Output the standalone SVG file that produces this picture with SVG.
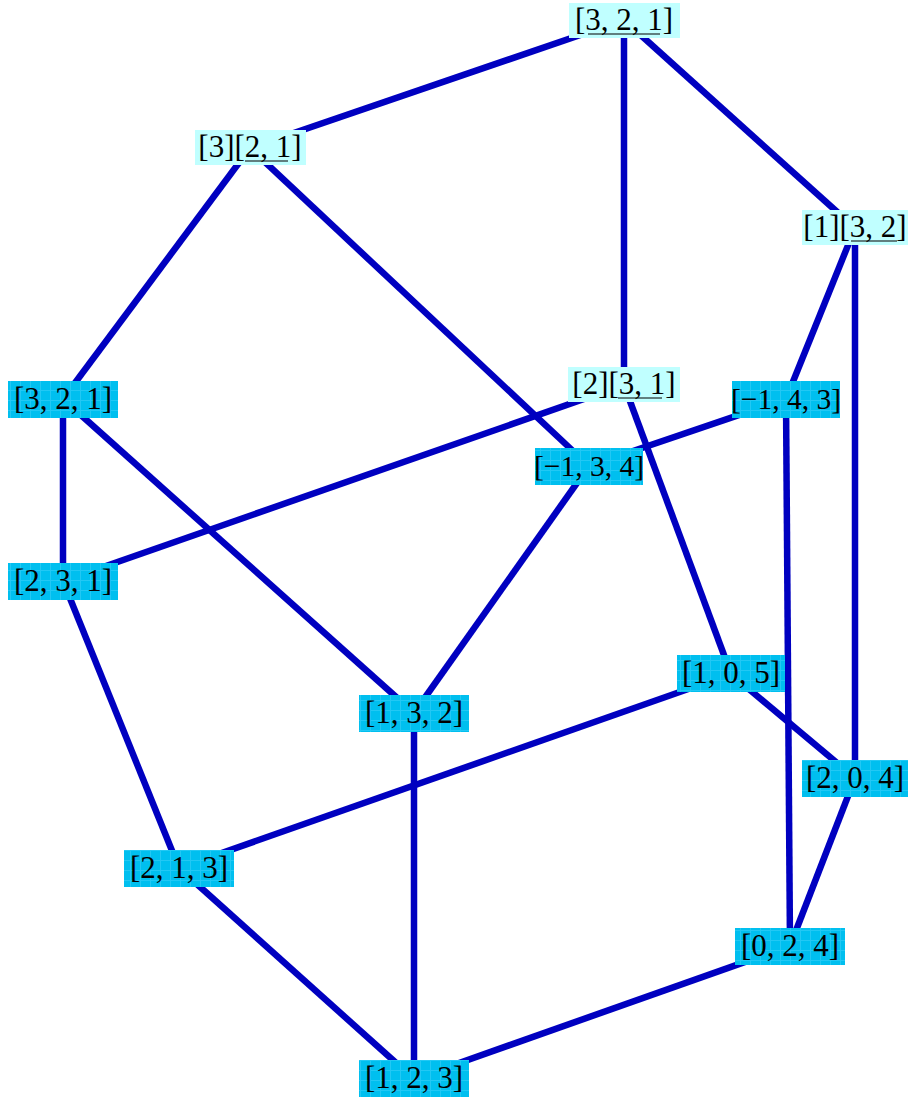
<svg xmlns="http://www.w3.org/2000/svg" width="910" height="1097" viewBox="0 0 910 1097">
<defs>
<pattern id="grid" width="10" height="10" patternUnits="userSpaceOnUse">
<rect width="10" height="10" fill="#00bfef"/>
<path d="M0 0.5H10M0.5 0V10" stroke="#22c8f4" stroke-width="1"/>
</pattern>
<style>
.e{stroke:#0000c0;stroke-width:6.5;fill:none;stroke-linecap:butt}
.lt{fill:#c0ffff}
.dk{fill:url(#grid)}
.t{font-family:"Liberation Serif","DejaVu Serif",serif;font-size:31px;fill:#000;text-anchor:middle}
.n{font-size:29.5px}
.u{stroke:#000;stroke-width:1.2}
</style>
</defs>
<rect width="910" height="1097" fill="#fff"/>
<g id="connectors">
<line class="e" x1="624" y1="20" x2="250" y2="148"/>
<line class="e" x1="624" y1="20" x2="624" y2="385"/>
<line class="e" x1="624" y1="20" x2="855" y2="228"/>
<line class="e" x1="250" y1="148" x2="63" y2="399"/>
<line class="e" x1="250" y1="148" x2="589" y2="466"/>
<line class="e" x1="855" y1="228" x2="786" y2="399"/>
<line class="e" x1="855" y1="228" x2="855" y2="778"/>
<line class="e" x1="624" y1="385" x2="63" y2="581"/>
<line class="e" x1="624" y1="385" x2="731" y2="674"/>
<line class="e" x1="63" y1="399" x2="63" y2="581"/>
<line class="e" x1="63" y1="399" x2="414" y2="713"/>
<line class="e" x1="589" y1="466" x2="786" y2="399"/>
<line class="e" x1="589" y1="466" x2="414" y2="713"/>
<line class="e" x1="63" y1="581" x2="179" y2="868"/>
<line class="e" x1="414" y1="713" x2="414" y2="1079"/>
<line class="e" x1="731" y1="674" x2="179" y2="868"/>
<line class="e" x1="731" y1="674" x2="855" y2="778"/>
<line class="e" x1="786" y1="399" x2="790" y2="946"/>
<line class="e" x1="855" y1="778" x2="790" y2="946"/>
<line class="e" x1="179" y1="868" x2="414" y2="1079"/>
<line class="e" x1="790" y1="946" x2="414" y2="1079"/>
</g>
<g id="nA"><rect class="lt" x="569" y="3" width="111" height="35"/><text class="t" x="624" y="30">[3, 2, 1]</text><line class="u" x1="588" y1="34" x2="660" y2="34"/></g>
<g id="nB"><rect class="lt" x="195" y="130" width="111" height="35"/><text class="t" x="250" y="157">[3][2, 1]</text><line class="u" x1="245" y1="161" x2="288" y2="161"/></g>
<g id="nC"><rect class="lt" x="802" y="210" width="106" height="35"/><text class="t" x="855" y="237">[1][3, 2]</text><line class="u" x1="851" y1="241" x2="897" y2="241"/></g>
<g id="nD"><rect class="lt" x="568" y="367" width="112" height="35"/><text class="t" x="624" y="394">[2][3, 1]</text><line class="u" x1="618" y1="398" x2="662" y2="398"/></g>
<g id="nE"><rect class="dk" x="8" y="381" width="110" height="37"/><text class="t" x="63" y="409">[3, 2, 1]</text></g>
<g id="nF"><rect class="dk" x="732" y="381" width="108" height="37"/><text class="t n" x="786" y="409">[−1, 4, 3]</text></g>
<g id="nG"><rect class="dk" x="535" y="448" width="108" height="37"/><text class="t n" x="589" y="476">[−1, 3, 4]</text></g>
<g id="nH"><rect class="dk" x="8" y="563" width="110" height="37"/><text class="t" x="63" y="591">[2, 3, 1]</text></g>
<g id="nI"><rect class="dk" x="359" y="695" width="110" height="37"/><text class="t" x="414" y="723">[1, 3, 2]</text></g>
<g id="nJ"><rect class="dk" x="677" y="655" width="108" height="37"/><text class="t" x="731" y="683">[1, 0, 5]</text></g>
<g id="nK"><rect class="dk" x="802" y="760" width="106" height="37"/><text class="t" x="855" y="788">[2, 0, 4]</text></g>
<g id="nL"><rect class="dk" x="124" y="850" width="110" height="37"/><text class="t" x="179" y="878">[2, 1, 3]</text></g>
<g id="nM"><rect class="dk" x="735" y="928" width="110" height="37"/><text class="t" x="790" y="956">[0, 2, 4]</text></g>
<g id="nN"><rect class="dk" x="359" y="1060" width="110" height="37"/><text class="t" x="414" y="1088">[1, 2, 3]</text></g>
</svg>
